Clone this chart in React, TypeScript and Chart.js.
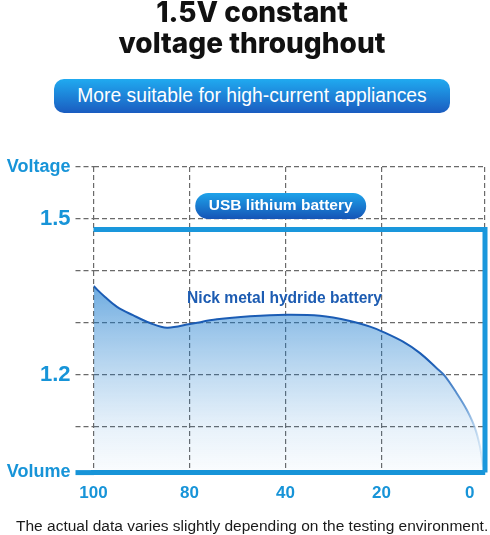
import React, { useEffect, useRef } from 'react';
import { Chart, registerables } from 'chart.js';

Chart.register(...registerables);

// ---- data ----
const xTickSteps = [0, 1, 2, 3, 3.92];
const xTickLabels = ['100', '80', '40', '20', '0'];
const xMaxStep = 4.078;

const yMinVolt = 1.0125;
const yMaxVolt = 1.6;
const yTickValues = [yMinVolt, 1.1, 1.2, 1.3, 1.4, 1.5, 1.6];
const yTickLabels = ['Volume', '', '1.2', '', '', '1.5', 'Voltage'];

const lithiumSteps = [0, xMaxStep, xMaxStep];
const lithiumVolts = [1.48, 1.48, yMinVolt];

const nimhSteps = [0, 0.12, 0.245, 0.411, 0.589, 0.766, 1.005, 1.286, 1.63, 2.005, 2.359, 2.672, 2.88, 3.002, 3.224, 3.401, 3.575, 3.661, 3.783, 3.888, 3.974, 4.026, 4.057];
const nimhVolts = [1.371, 1.35, 1.331, 1.315, 1.3, 1.291, 1.298, 1.307, 1.313, 1.316, 1.314, 1.304, 1.293, 1.284, 1.264, 1.242, 1.213, 1.198, 1.165, 1.133, 1.098, 1.062, 1.024];

const titleLines = ['1.5V constant', 'voltage throughout'];
const subtitleText = 'More suitable for high-current appliances';
const footerText = 'The actual data varies slightly depending on the testing environment.';
const lithiumLabel = { text: 'USB lithium battery', step: 1.95, volt: 1.525 };
const nimhLabel = { text: 'Nick metal hydride battery', step: 1.99, volt: 1.347 };

const BLUE = '#1794d8';
const GRID = '#6a6a6a';
const FONT = "'Liberation Sans', Arial, sans-serif";

const labelPlugin = {
  id: 'seriesLabels',
  afterDatasetsDraw(chart: any) {
    const { ctx, scales } = chart;
    const x = scales.x, y = scales.y;
    // lithium pill
    const cx = x.getPixelForValue(lithiumLabel.step);
    const cy = y.getPixelForValue(lithiumLabel.volt);
    const w = 171, h = 26, r = 13;
    const left = cx - w / 2, top = cy - h / 2;
    ctx.save();
    const g = ctx.createLinearGradient(0, top, 0, top + h);
    g.addColorStop(0, '#1ea3ea');
    g.addColorStop(1, '#1554b6');
    ctx.beginPath();
    ctx.moveTo(left + r, top);
    ctx.lineTo(left + w - r, top);
    ctx.arc(left + w - r, top + r, r, -Math.PI / 2, Math.PI / 2);
    ctx.lineTo(left + r, top + h);
    ctx.arc(left + r, top + r, r, Math.PI / 2, Math.PI * 1.5);
    ctx.closePath();
    ctx.fillStyle = g;
    ctx.fill();
    ctx.fillStyle = '#ffffff';
    ctx.font = `bold 15.5px ${FONT}`;
    ctx.textAlign = 'center';
    ctx.textBaseline = 'middle';
    ctx.fillText(lithiumLabel.text, cx, cy);
    // nimh label
    ctx.fillStyle = '#1d5cb2';
    ctx.font = `bold 15.6px ${FONT}`;
    ctx.fillText(nimhLabel.text, x.getPixelForValue(nimhLabel.step), y.getPixelForValue(nimhLabel.volt));
    ctx.restore();
  },
};

export default function App() {
  const ref = useRef<HTMLCanvasElement | null>(null);

  useEffect(() => {
    if (!ref.current) return;
    const chart = new Chart(ref.current, {
      type: 'line',
      data: {
        datasets: [
          {
            label: 'USB lithium battery',
            data: lithiumSteps.map((s, i) => ({ x: s, y: lithiumVolts[i] })),
            borderColor: '#1a97dc',
            borderWidth: 5,
            pointRadius: 0,
            fill: false,
            tension: 0,
            borderJoinStyle: 'miter',
            clip: false as any,
          },
          {
            label: 'Nick metal hydride battery',
            data: nimhSteps.map((s, i) => ({ x: s, y: nimhVolts[i] })),
            borderWidth: 2,
            pointRadius: 0,
            tension: 0.35,
            fill: 'start',
            borderColor: (c: any) => {
              const area = c.chart.chartArea;
              if (!area) return '#1b5eb5';
              const gr = c.chart.ctx.createLinearGradient(area.left, 0, area.right, 0);
              gr.addColorStop(0, '#1b5cb4');
              gr.addColorStop(0.86, '#1b5cb4');
              gr.addColorStop(0.95, '#6c9fd6');
              gr.addColorStop(1, 'rgba(205,228,246,0.4)');
              return gr;
            },
            backgroundColor: (c: any) => {
              const area = c.chart.chartArea;
              if (!area) return 'rgba(20,120,205,0.4)';
              const gr = c.chart.ctx.createLinearGradient(0, area.top, 0, area.bottom);
              gr.addColorStop(0, 'rgba(20,120,205,0.7)');
              gr.addColorStop(0.39, 'rgba(20,120,205,0.62)');
              gr.addColorStop(0.51, 'rgba(20,120,205,0.45)');
              gr.addColorStop(0.684, 'rgba(20,120,205,0.26)');
              gr.addColorStop(0.85, 'rgba(20,120,205,0.1)');
              gr.addColorStop(1, 'rgba(20,120,205,0.02)');
              return gr;
            },
          },
        ],
      },
      options: {
        responsive: false,
        devicePixelRatio: 1,
        animation: false,
        layout: { padding: { top: 167, right: 5, bottom: 0, left: 0 } },
        plugins: { legend: { display: false }, tooltip: { enabled: false }, title: { display: false } },
        scales: {
          x: {
            type: 'linear',
            min: 0,
            max: xMaxStep,
            afterBuildTicks: (s: any) => {
              s.ticks = [...xTickSteps, xMaxStep].map((v) => ({ value: v }));
            },
            afterFit: (s: any) => {
              s.height = 62.5;
              s.paddingRight = 0;
              s.paddingLeft = 0;
            },
            ticks: {
              autoSkip: false,
              maxRotation: 0,
              padding: 11,
              color: BLUE,
              font: { family: FONT, size: 17, weight: 'bold' },
              callback: (_v: any, i: number) => (i < xTickLabels.length ? xTickLabels[i] : ''),
            },
            grid: {
              drawTicks: false,
              color: (c: any) => (c.index === 4 ? 'rgba(0,0,0,0)' : GRID),
              lineWidth: 1.2,
            },
            border: { display: true, color: BLUE, width: 5, dash: [5, 3] },
          },
          y: {
            type: 'linear',
            min: yMinVolt,
            max: yMaxVolt,
            afterBuildTicks: (s: any) => {
              s.ticks = yTickValues.map((v) => ({ value: v }));
            },
            afterFit: (s: any) => {
              s.width = 93.5;
              s.paddingTop = 0;
              s.paddingBottom = 0;
            },
            ticks: {
              autoSkip: false,
              padding: 5,
              color: BLUE,
              font: (c: any) =>
                c.index === 2 || c.index === 5
                  ? { family: FONT, size: 22, weight: 'bold' }
                  : { family: FONT, size: 18, weight: 'bold' },
              callback: (_v: any, i: number) => yTickLabels[i] ?? '',
            },
            grid: {
              drawTicks: true,
              tickLength: 18,
              color: (c: any) => (c.index === 0 ? 'rgba(0,0,0,0)' : GRID),
              lineWidth: 1.2,
              tickColor: (c: any) => (c.index === 0 ? BLUE : GRID),
              tickWidth: (c: any) => (c.index === 0 ? 5 : 1.2),
              tickBorderDash: (c: any) => (c.index === 0 ? [] : [5, 3]),
            } as any,
            border: { display: false, dash: [5, 3] },
          },
        },
      } as any,
      plugins: [labelPlugin],
    });
    return () => chart.destroy();
  }, []);

  return (
    <div style={{ position: 'fixed', left: 0, top: 0, width: 490, height: 535, background: '#fff', overflow: 'hidden' }}>
      <canvas ref={ref} width={490} height={535} style={{ position: 'absolute', left: 0, top: 0, width: 490, height: 535 }} />
      <div
        style={{
          position: 'absolute',
          left: 7,
          top: -3,
          width: 490,
          textAlign: 'center',
          fontFamily: "Inter, 'Open Sans', sans-serif",
          fontWeight: 800,
          fontSize: 28,
          lineHeight: '31px',
          color: '#111',
        }}
      >
        {titleLines.map((t) => (
          <div key={t}>{t}</div>
        ))}
      </div>
      <div
        style={{
          position: 'absolute',
          left: 54,
          top: 79,
          width: 396,
          height: 34,
          borderRadius: 10,
          background: 'linear-gradient(#20aaf0, #1a5cc0)',
          color: '#fff',
          fontFamily: FONT,
          fontSize: 19.3,
          lineHeight: '34px',
          textAlign: 'center',
        }}
      >
        {subtitleText}
      </div>
      <div
        style={{
          position: 'absolute',
          left: 16,
          top: 517,
          whiteSpace: 'nowrap',
          fontFamily: FONT,
          fontSize: 15.5,
          color: '#1a1a1a',
        }}
      >
        {footerText}
      </div>
    </div>
  );
}
